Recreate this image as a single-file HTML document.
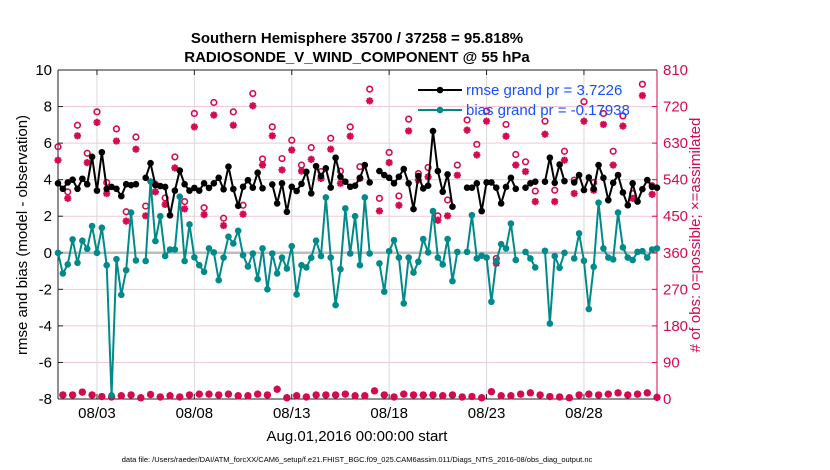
<!DOCTYPE html>
<html><head><meta charset="utf-8"><style>
body{margin:0;background:#fff;}
svg{display:block;font-family:"Liberation Sans",sans-serif;}
</style></head><body>
<svg id="chart" width="830" height="470" viewBox="0 0 830 470" xmlns="http://www.w3.org/2000/svg">
<rect width="830" height="470" fill="#fff"/>
<g id="grid"></g><g id="axes"></g><g id="marks"></g><g id="legend"></g>
<text x="357" y="43" text-anchor="middle" font-size="15" font-weight="bold">Southern Hemisphere 35700 / 37258 = 95.818%</text>
<text x="357" y="62" text-anchor="middle" font-size="15" font-weight="bold">RADIOSONDE_V_WIND_COMPONENT @ 55 hPa</text>
<text x="357" y="441" text-anchor="middle" font-size="15">Aug.01,2016 00:00:00 start</text>
<text x="357" y="462" text-anchor="middle" font-size="7.5">data file: /Users/raeder/DAI/ATM_forcXX/CAM6_setup/f.e21.FHIST_BGC.f09_025.CAM6assim.011/Diags_NTrS_2016-08/obs_diag_output.nc</text>
<text transform="translate(27,235) rotate(-90)" text-anchor="middle" font-size="15">rmse and bias (model - observation)</text>
<text transform="translate(700,235) rotate(-90)" text-anchor="middle" font-size="15" fill="#d6094f"># of obs: o=possible; ×=assimilated</text>
</svg>
<script>
const dateLabels=["08/03","08/08","08/13","08/18","08/23","08/28"];
const dateIndex=[8,28,48,68,88,108];
const leftTicks=[10,8,6,4,2,0,-2,-4,-6,-8];
const rightTicks=[0,90,180,270,360,450,540,630,720,810];
const rmse=[3.8,3.5,3.85,4.0,3.5,4.05,3.75,5.25,3.4,5.5,
3.5,3.6,3.5,3.1,3.75,3.7,3.75,null,4.1,4.9,
3.7,3.65,3.6,2.05,3.4,4.5,3.75,3.4,3.55,3.4,
3.8,3.55,3.8,4.1,3.47,4.71,3.49,2.57,3.61,3.97,
3.56,4.38,3.53,null,3.74,2.7,3.8,2.24,3.61,3.38,
3.77,4.43,3.25,4.74,4.2,4.62,3.57,5.2,4.16,3.89,
3.61,3.67,4.1,4.8,3.85,null,4.47,4.25,4.1,3.8,
4.16,4.58,3.8,2.39,4.2,3.52,3.67,6.66,4.47,3.34,
4.29,2.52,null,null,3.56,3.56,3.8,2.28,3.85,3.85,
3.56,2.7,3.6,4.1,3.5,null,3.56,3.8,3.89,null,
3.89,5.2,3.83,4.83,3.92,null,3.85,4.25,3.43,4.12,
3.5,4.8,4.1,2.88,3.83,4.25,3.3,2.6,3.8,2.8,
3.48,3.98,3.61,3.56];
const bias=[0,-1.13,-0.64,0.73,-0.55,0.66,0.22,1.46,0,1.37,
-0.68,-7.8,-0.35,-2.3,-0.95,2.2,-0.42,null,-0.45,3.9,
0.64,2.0,-0.18,0.18,0.18,3.07,-0.45,1.55,-0.25,-0.68,
-1.04,0.24,0.02,-1.5,-0.26,0.88,0.51,1.2,-0.13,-0.75,
-0.04,-1.44,0.24,-2.0,-0.04,-1.13,-0.26,-0.86,0.36,-2.28,
-0.68,-0.8,-0.27,0.66,-0.18,3.03,-0.26,-2.86,-0.9,2.43,
-0.04,2.0,-0.68,3.03,-0.04,null,-0.58,-2.13,0.09,0.69,
-0.26,-2.77,-0.26,-1.08,-0.49,0.75,0.02,2.28,-0.26,-0.64,
0.75,-1.55,0.05,null,0.05,2.06,-0.31,-0.16,-0.26,-2.68,
-0.45,0.47,0.24,1.6,-0.4,null,0.05,-0.31,-0.8,null,
0.11,-3.87,-0.18,-0.82,0,null,-0.31,1.06,-0.44,-3.08,
-0.77,2.74,0.24,-0.26,-0.36,2.2,0.29,-0.26,-0.4,0.05,
0.09,-0.26,0.18,0.24];
const possibleMain=[621,510,674,605,707,533,665,461,645,475,529,495,596,486,703,471,730,445,707,477,752,591,670,592,637,576,619,560,642,561,670,572,763,494,607,500,689,555,570,451,490,576,687,627,709,346,676,602,584,512,684,514,610,539,732,533,703,610,697,506,775,525];
const assimMain=[588,494,648,582,681,506,635,438,615,451,510,479,569,468,670,454,699,427,674,455,722,576,648,564,613,561,590,543,615,531,647,543,734,463,582,477,660,539,547,440,451,551,662,601,684,334,647,576,560,486,652,486,588,506,684,514,676,576,672,494,747,504];
const fewObs=[10,10,17,10,6,5,8,10,3,11,5,8,5,10,12,12,10,12,8,8,12,10,24,3,8,5,10,10,10,12,8,8,20,10,5,12,10,10,10,8,10,5,6,3,18,8,8,12,15,10,6,5,3,10,12,10,12,15,10,12,15,4];

const NS="http://www.w3.org/2000/svg";
const L=58,R=657,T=70,B=399,N=124;
const xS=i=>L+i*(R-L)/(N-1);
const yS=v=>T+(10-v)*(B-T)/18;
const yC=c=>yS(c/45-8);
const RED="#d6094f",TEAL="#008a8a";
function mk(tag,parent,attrs){const e=document.createElementNS(NS,tag);for(const k in attrs)e.setAttribute(k,attrs[k]);parent.appendChild(e);return e;}
const grid=document.getElementById('grid'),axes=document.getElementById('axes'),marks=document.getElementById('marks'),leg=document.getElementById('legend');

leftTicks.forEach((t,k)=>{
  const y=yS(t);
  const g=mk('line',grid,{x1:L,x2:R,y1:y,y2:y,stroke:"#f2c9d8","stroke-width":1});
  
  
  const tx=mk('text',axes,{x:L-6,y:y+5,"text-anchor":"end","font-size":15});
  tx.textContent=t;
  
  
  mk('line',axes,{x1:L,x2:L+5,y1:y,y2:y,stroke:"#222"});
});
rightTicks.forEach(c=>{
  const y=yC(c);
  const tx=mk('text',axes,{x:R+6,y:y+5,"font-size":15,fill:RED});
  tx.textContent=c;
  
  
  mk('line',axes,{x1:R-5,x2:R,y1:y,y2:y,stroke:RED});
});
dateIndex.forEach((di,k)=>{
  const x=xS(di);
  const g=mk('line',grid,{x1:x,x2:x,y1:T,y2:B,stroke:"#d8d8d8","stroke-width":1});
  
  
  mk('line',axes,{x1:x,x2:x,y1:T,y2:T+5,stroke:"#222"});
  mk('line',axes,{x1:x,x2:x,y1:B,y2:B-5,stroke:"#222"});
  const tx=mk('text',axes,{x:x,y:418,"text-anchor":"middle","font-size":15});
  tx.textContent=dateLabels[k];
  
  
});
const zl=mk('line',grid,{x1:L,x2:R,y1:yS(0),y2:yS(0),stroke:"#bdbdbd","stroke-width":2.5});


mk('line',axes,{x1:L,x2:R,y1:T,y2:T,stroke:"#222"});
mk('line',axes,{x1:L,x2:R,y1:B,y2:B,stroke:"#222"});
mk('line',axes,{x1:L,x2:L,y1:T,y2:B,stroke:"#222"});
mk('line',axes,{x1:R,x2:R,y1:T,y2:B,stroke:RED});

function drawStar(x,y,parent){
  const s=3.6,d=s*0.72;
  mk('path',parent,{d:`M${x-s},${y}H${x+s}M${x},${y-s}V${y+s}M${x-d},${y-d}L${x+d},${y+d}M${x-d},${y+d}L${x+d},${y-d}`,stroke:RED,"stroke-width":2,fill:"none"});
}
const obsG=mk('g',marks,{});


for(let i=0;i<N;i++){
  const p=i%2===0?possibleMain[i/2]:fewObs[(i-1)/2];
  const a=i%2===0?assimMain[i/2]:fewObs[(i-1)/2];
  const x=xS(i);
  const c=mk('circle',obsG,{cx:x,cy:yC(p),r:2.8,fill:"none",stroke:RED,"stroke-width":1.6});
  
  
  drawStar(x,yC(a),obsG);
}
function series(vals,color,name){
  const g=mk('g',marks,{});
  
  
  let d="",pen=false;
  vals.forEach((v,i)=>{if(v===null){pen=false;return;}d+=(pen?"L":"M")+xS(i)+","+yS(v);pen=true;});
  mk('path',g,{d:d,fill:"none",stroke:color,"stroke-width":2});
  vals.forEach((v,i)=>{if(v===null)return;
    const c=mk('circle',g,{cx:xS(i),cy:yS(v),r:3.3,fill:color});
    
    
  });
}
series(bias,TEAL,'bias-series');
series(rmse,"#000",'rmse-series');

[["#000","rmse grand pr = 3.7226",90,'legend-rmse'],[TEAL,"bias grand pr = -0.17938",110,'legend-bias']].forEach(e=>{
  const g=mk('g',leg,{});
  
  
  mk('line',g,{x1:418,x2:462,y1:e[2],y2:e[2],stroke:e[0],"stroke-width":2});
  mk('circle',g,{cx:440,cy:e[2],r:3.3,fill:e[0]});
  const t=mk('text',g,{x:466,y:e[2]+5,"font-size":15,fill:"#1450ff"});
  t.textContent=e[1];
});
</script>
</body></html>
